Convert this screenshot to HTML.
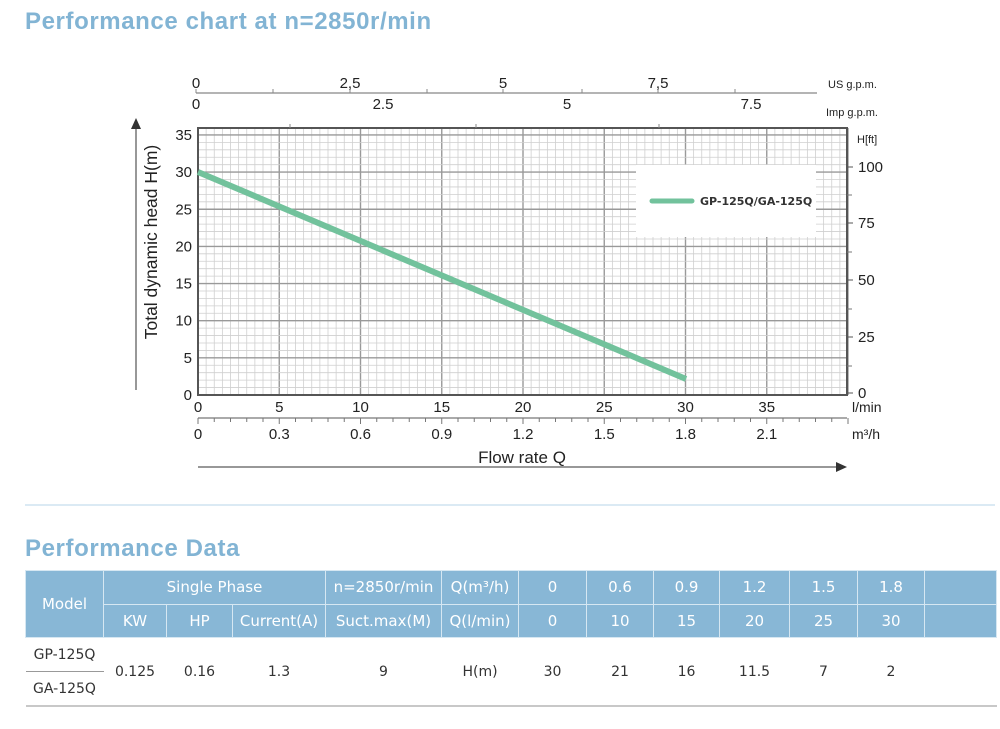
<!DOCTYPE html>
<html><head><meta charset="utf-8"><style>
body{margin:0;background:#fff;width:1000px;height:729px;overflow:hidden;font-family:"Liberation Sans",sans-serif}
.t{position:absolute;left:25px;color:#82b4d4;font-weight:bold;font-size:24px;letter-spacing:0.6px}
table{position:absolute;left:25px;top:570px;border-collapse:collapse;font-family:"DejaVu Sans","Liberation Sans",sans-serif;font-size:14px;color:#333}
td{text-align:center;padding:0;height:33px}
th{background:#88b7d6;color:#fff;font-weight:normal;border:1px solid #d6e7f2;padding:0;height:32px;font-size:15px}
</style></head><body>
<div class="t" style="top:8px">Performance chart at n=2850r/min</div>
<div style="position:absolute;left:25px;top:504px;width:970px;height:2px;background:#dbeaf4"></div>
<div class="t" style="top:535px">Performance Data</div>
<svg id="s" width="1000" height="500" style="position:absolute;left:0;top:0"></svg>
<script>
var s='';var X=function(q){return 198+q*16.25},Y=function(h){return 395-h*7.43};
for(var q=0;q<=40;q+=0.5){var x=X(q);var maj=q%5==0;s+='<line x1="'+x+'" y1="128" x2="'+x+'" y2="395" stroke="'+(maj?'#999':'#cfcfcf')+'" stroke-width="'+(maj?1.4:0.8)+'"/>';}
for(var h=0;h<=36;h+=1){var y=Y(h);var maj=h%5==0;s+='<line x1="198" y1="'+y+'" x2="847" y2="'+y+'" stroke="'+(maj?'#999':'#cfcfcf')+'" stroke-width="'+(maj?1.4:0.8)+'"/>';}
s+='<rect x="198" y="128" width="649" height="267" fill="none" stroke="#555" stroke-width="2"/>';
s+='<rect x="636" y="165" width="180" height="72" fill="#fff"/>';
s+='<line x1="652" y1="201" x2="692" y2="201" stroke="#72c29c" stroke-width="5" stroke-linecap="round"/>';
s+='<text x="700" y="205" font-size="11" font-weight="bold" fill="#333" font-family="DejaVu Sans,sans-serif">GP-125Q/GA-125Q</text>';
s+='<line x1="198" y1="172" x2="686" y2="379" stroke="#72c29c" stroke-width="6"/>';
var T=function(x,y,t,sz,a){return '<text x="'+x+'" y="'+y+'" font-size="'+(sz||14)+'" fill="#222" text-anchor="'+(a||'middle')+'" font-family="Liberation Sans,sans-serif">'+t+'</text>';};
for(var h=0;h<=35;h+=5)s+=T(192,Y(h)+5,h,15,'end');
s+='<line x1="847" y1="128" x2="847" y2="395" stroke="#555" stroke-width="2"/>';
[[100,167],[75,223],[50,280],[25,337],[0,393]].forEach(function(p){s+='<line x1="847" y1="'+p[1]+'" x2="853" y2="'+p[1]+'" stroke="#555"/>'+T(858,p[1]+5,p[0],15,'start');});
[195,252,309,366].forEach(function(y){s+='<line x1="847" y1="'+y+'" x2="852" y2="'+y+'" stroke="#777"/>';});
s+=T(857,143,'H[ft]',11,'start');
s+='<line x1="196" y1="93" x2="817" y2="93" stroke="#888" stroke-width="1.2"/>';
[196,273,350,427,503,582,658,735].forEach(function(x){s+='<line x1="'+x+'" y1="89" x2="'+x+'" y2="93" stroke="#888"/>';});
s+=T(196,88,'0',15)+T(350,88,'2,5',15)+T(503,88,'5',15)+T(658,88,'7,5',15)+T(828,88,'US g.p.m.',11,'start');
s+=T(196,109,'0',15)+T(383,109,'2.5',15)+T(567,109,'5',15)+T(751,109,'7.5',15)+T(826,116,'Imp g.p.m.',11,'start');
[290,476,659].forEach(function(x){s+='<line x1="'+x+'" y1="124" x2="'+x+'" y2="128" stroke="#888"/>';});
for(var q=0;q<=35;q+=5)s+=T(X(q),412,q,15);
s+=T(852,412,'l/min',14,'start');
s+='<line x1="198" y1="418" x2="847" y2="418" stroke="#777" stroke-width="1.2"/>';
for(var q=0;q<=40;q++){s+='<line x1="'+X(q)+'" y1="418" x2="'+X(q)+'" y2="'+(q%5==0?424:422)+'" stroke="#777"/>';}
['0','0.3','0.6','0.9','1.2','1.5','1.8','2.1'].forEach(function(t,i){s+=T(X(i*5),439,t,15);});
s+=T(852,439,'m³/h',14,'start');
s+='<line x1="198" y1="467" x2="838" y2="467" stroke="#777" stroke-width="1.5"/><polygon points="847,467 836,462 836,472" fill="#333"/>';
s+=T(522,463,'Flow rate Q',17);
s+='<line x1="136" y1="390" x2="136" y2="128" stroke="#777" stroke-width="1.5"/><polygon points="136,118 131,129 141,129" fill="#333"/>';
s+='<text transform="translate(157,242) rotate(-90)" font-size="17.5" text-anchor="middle" fill="#222" font-family="Liberation Sans,sans-serif">Total dynamic head H(m)</text>';
document.getElementById('s').innerHTML=s;
</script>
<table>
<tr><th rowspan="2" style="width:77px;height:66px">Model</th><th colspan="3">Single Phase</th><th style="width:115px">n=2850r/min</th><th style="width:76px">Q(m³/h)</th><th style="width:67px">0</th><th style="width:66px">0.6</th><th style="width:65px">0.9</th><th style="width:69px">1.2</th><th style="width:67px">1.5</th><th style="width:66px">1.8</th><th style="width:71px"></th></tr>
<tr><th style="width:62px">KW</th><th style="width:65px">HP</th><th style="width:92px">Current(A)</th><th>Suct.max(M)</th><th>Q(l/min)</th><th>0</th><th>10</th><th>15</th><th>20</th><th>25</th><th>30</th><th></th></tr>
<tr><td style="border-bottom:1px solid #999">GP-125Q</td><td rowspan="2">0.125</td><td rowspan="2">0.16</td><td rowspan="2">1.3</td><td rowspan="2">9</td><td rowspan="2">H(m)</td><td rowspan="2">30</td><td rowspan="2">21</td><td rowspan="2">16</td><td rowspan="2">11.5</td><td rowspan="2">7</td><td rowspan="2">2</td><td rowspan="2"></td></tr>
<tr><td>GA-125Q</td></tr>
<tr><td colspan="13" style="height:2px;background:#c8c8c8;padding:0"></td></tr>
</table>
</body></html>
